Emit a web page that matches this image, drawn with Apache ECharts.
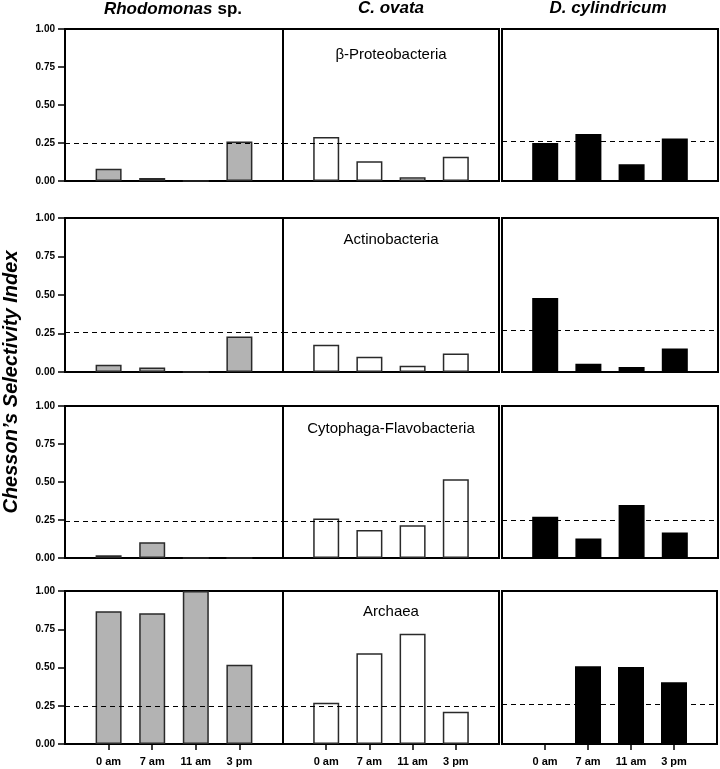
<!DOCTYPE html>
<html>
<head>
<meta charset="utf-8">
<script src="https://cdn.jsdelivr.net/npm/echarts@6/dist/echarts.min.js"></script>
<style>html,body{margin:0;padding:0;background:#fff;}#c{width:720px;height:769px;}</style>
</head>
<body>
<div id="c"></div>
<script>
// ---- data ----
const categories = ['', '0 am', '7 am', '11 am', '3 pm', ''];
const groups = ['β-Proteobacteria', 'Actinobacteria', 'Cytophaga-Flavobacteria', 'Archaea'];
const yTicks = [0, 0.25, 0.5, 0.75, 1.0];

// values per group, per predator: [0 am, 7 am, 11 am, 3 pm]
const rhodomonas = [
  [0.08, 0.02, 0, 0.26],
  [0.047, 0.03, 0, 0.23],
  [0.018, 0.103, 0, 0],
  [0.868, 0.855, 1.0, 0.518]
];
const cOvata = [
  [0.29, 0.13, 0.025, 0.16],
  [0.177, 0.099, 0.04, 0.12],
  [0.26, 0.184, 0.215, 0.518],
  [0.27, 0.593, 0.72, 0.21]
];
const dCylindricum = [
  [0.25, 0.31, 0.11, 0.28],
  [0.48, 0.054, 0.032, 0.153],
  [0.272, 0.128, 0.349, 0.167],
  [0, 0.508, 0.503, 0.403]
];
// dashed reference (neutral selectivity) per group: [left two panels, right panel]
const thresholds = [
  [0.246, 0.257],
  [0.259, 0.267],
  [0.241, 0.25],
  [0.25, 0.257]
];

// ---- layout ----
const colLeft = [65, 283, 502];
const colWidth = [218, 216, 216];
const rowTop = [29, 218, 406, 591];
const rowHeight = [152, 154, 152, 153];
const fills = ['#b3b3b3', '#ffffff', '#000000'];
const borders = ['#2a2a2a', '#2a2a2a', '#000000'];
const allData = [rhodomonas, cOvata, dCylindricum];
const FONT = 'Liberation Sans, Arial, sans-serif';

const grids = [], xAxes = [], yAxes = [], series = [];
let idx = 0;
for (let r = 0; r < 4; r++) {
  for (let c = 0; c < 3; c++) {
    grids.push({
      left: colLeft[c], top: rowTop[r], width: colWidth[c], height: rowHeight[r],
      show: true, borderColor: '#000', borderWidth: 2, backgroundColor: 'transparent'
    });
    const bottomRow = r === 3;
    xAxes.push({
      type: 'category', gridIndex: idx, data: categories, boundaryGap: false,
      axisLine: { show: true, lineStyle: { color: '#000', width: 2 } },
      axisTick: { show: bottomRow, length: 6, inside: false,
        interval: function (i) { return i >= 1 && i <= 4; },
        lineStyle: { color: '#000', width: 1.5 } },
      axisLabel: { show: bottomRow, interval: 0, margin: 12, color: '#000',
        fontFamily: FONT, fontWeight: 'bold', fontSize: 11 },
      splitLine: { show: false }
    });
    yAxes.push({
      type: 'value', gridIndex: idx, min: yTicks[0], max: yTicks[yTicks.length - 1], interval: 0.25,
      axisLine: { show: c === 0, lineStyle: { color: '#000', width: 2 } },
      axisTick: { show: c === 0, length: 7, lineStyle: { color: '#000', width: 1.5 } },
      axisLabel: { show: c === 0, margin: 10, color: '#000', fontFamily: FONT,
        fontWeight: 'bold', fontSize: 10, formatter: function (v) { return v.toFixed(2); } },
      splitLine: { show: false }
    });
    const vals = allData[c][r];
    series.push({
      type: 'bar', xAxisIndex: idx, yAxisIndex: idx,
      data: [null].concat(vals).concat([null]),
      barWidth: 26,
      itemStyle: { color: fills[c], borderColor: borders[c], borderWidth: 1.5 },
      silent: true,
      markLine: {
        silent: true, symbol: 'none', label: { show: false },
        lineStyle: { type: [5, 4], color: '#000', width: 1.2 },
        data: [{ yAxis: thresholds[r][c === 2 ? 1 : 0] }]
      }
    });
    idx++;
  }
}

const titles = [
  { text: '{i|Rhodomonas} {b|sp.}', left: 173, top: 0, padding: 0, textAlign: 'center',
    textStyle: { rich: {
      i: { fontFamily: FONT, fontStyle: 'italic', fontWeight: 'bold', fontSize: 17, color: '#000' },
      b: { fontFamily: FONT, fontWeight: 'bold', fontSize: 17, color: '#000' } } } },
  { text: 'C. ovata', left: 391, top: 0, padding: 0, textAlign: 'center',
    textStyle: { fontFamily: FONT, fontStyle: 'italic', fontWeight: 'bold', fontSize: 17, color: '#000' } },
  { text: 'D. cylindricum', left: 608, top: 0, padding: 0, textAlign: 'center',
    textStyle: { fontFamily: FONT, fontStyle: 'italic', fontWeight: 'bold', fontSize: 17, color: '#000' } }
];
const labelTops = [47, 232, 421, 604];
for (let r = 0; r < 4; r++) {
  titles.push({ text: groups[r], left: 391, top: labelTops[r], padding: 0, textAlign: 'center',
    textStyle: { fontFamily: FONT, fontWeight: 'normal', fontSize: 15, color: '#000' } });
}

const chart = echarts.init(document.getElementById('c'), null, { renderer: 'canvas' });
chart.setOption({
  animation: false,
  backgroundColor: '#fff',
  title: titles,
  grid: grids, xAxis: xAxes, yAxis: yAxes, series: series,
  graphic: [{
    type: 'text', rotation: Math.PI / 2,
    x: 11, y: 382,
    style: { text: 'Chesson\u2019s Selectivity Index', fontFamily: FONT, fontStyle: 'italic',
      fontWeight: 'bold', fontSize: 20, fill: '#000', align: 'center', verticalAlign: 'middle' }
  }]
});
</script>
</body>
</html>
